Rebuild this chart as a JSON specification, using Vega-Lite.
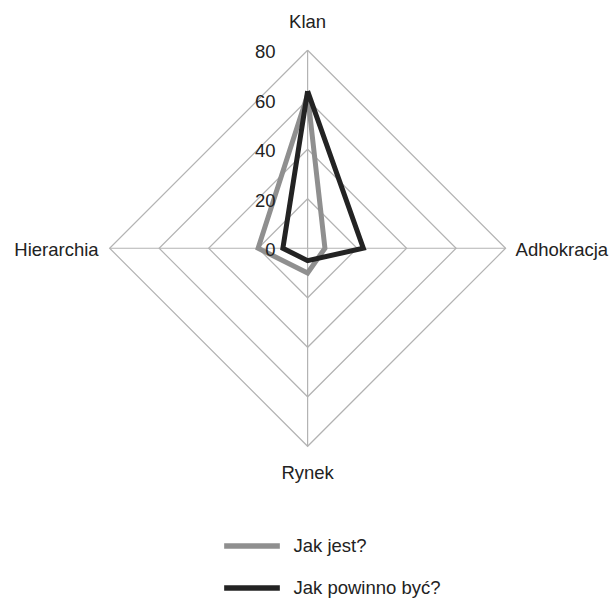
{
  "$schema": "https://vega.github.io/schema/vega-lite/v6.json",
  "width": 613,
  "height": 601,
  "autosize": "none",
  "padding": 0,
  "background": "white",
  "config": {"view": {"stroke": null}, "font": "Liberation Sans", "text": {"font": "Liberation Sans", "fontSize": 18.5, "color": "#222222"}},
  "datasets": {
    "grid": [
      {"level": 20, "axis": ["Klan", "Adhokracja", "Rynek", "Hierarchia", "Klan"], "o": [0, 1, 2, 3, 4]},
      {"level": 40, "axis": ["Klan", "Adhokracja", "Rynek", "Hierarchia", "Klan"], "o": [0, 1, 2, 3, 4]},
      {"level": 60, "axis": ["Klan", "Adhokracja", "Rynek", "Hierarchia", "Klan"], "o": [0, 1, 2, 3, 4]},
      {"level": 80, "axis": ["Klan", "Adhokracja", "Rynek", "Hierarchia", "Klan"], "o": [0, 1, 2, 3, 4]}
    ],
    "spokes": [
      {"axis": "Klan", "value": 80},
      {"axis": "Adhokracja", "value": 80},
      {"axis": "Rynek", "value": 80},
      {"axis": "Hierarchia", "value": 80}
    ],
    "series": [
      {"series": "Jak jest?", "axis": "Klan", "value": 62, "o": 0},
      {"series": "Jak jest?", "axis": "Adhokracja", "value": 7, "o": 1},
      {"series": "Jak jest?", "axis": "Rynek", "value": 10, "o": 2},
      {"series": "Jak jest?", "axis": "Hierarchia", "value": 20, "o": 3},
      {"series": "Jak jest?", "axis": "Klan", "value": 62, "o": 4},
      {"series": "Jak powinno być?", "axis": "Klan", "value": 63.5, "o": 0},
      {"series": "Jak powinno być?", "axis": "Adhokracja", "value": 22.5, "o": 1},
      {"series": "Jak powinno być?", "axis": "Rynek", "value": 5, "o": 2},
      {"series": "Jak powinno być?", "axis": "Hierarchia", "value": 10, "o": 3},
      {"series": "Jak powinno być?", "axis": "Klan", "value": 63.5, "o": 4}
    ],
    "ticks": [
      {"t": "0", "v": 0},
      {"t": "20", "v": 20},
      {"t": "40", "v": 40},
      {"t": "60", "v": 60},
      {"t": "80", "v": 80}
    ]
  },
  "layer": [
    {
      "data": {"name": "grid"},
      "transform": [
        {"flatten": ["axis", "o"]},
        {"calculate": "datum.axis === 'Adhokracja' ? datum.level : (datum.axis === 'Hierarchia' ? -datum.level : 0)", "as": "px"},
        {"calculate": "datum.axis === 'Klan' ? datum.level : (datum.axis === 'Rynek' ? -datum.level : 0)", "as": "py"}
      ],
      "mark": {"type": "line", "stroke": "#b3b3b3", "strokeWidth": 1.2},
      "encoding": {
        "x": {"field": "px", "type": "quantitative", "scale": {"domain": [-124.3, 123.4], "nice": false, "zero": false}, "axis": null},
        "y": {"field": "py", "type": "quantitative", "scale": {"domain": [-142.5, 100.3], "nice": false, "zero": false}, "axis": null},
        "detail": {"field": "level", "type": "nominal"},
        "order": {"field": "o", "type": "quantitative"}
      }
    },
    {
      "data": {"name": "spokes"},
      "transform": [
        {"calculate": "datum.axis === 'Adhokracja' ? datum.value : (datum.axis === 'Hierarchia' ? -datum.value : 0)", "as": "px"},
        {"calculate": "datum.axis === 'Klan' ? datum.value : (datum.axis === 'Rynek' ? -datum.value : 0)", "as": "py"}
      ],
      "mark": {"type": "rule", "stroke": "#b3b3b3", "strokeWidth": 1.2},
      "encoding": {
        "x": {"field": "px", "type": "quantitative"},
        "y": {"field": "py", "type": "quantitative"},
        "x2": {"datum": 0},
        "y2": {"datum": 0}
      }
    },
    {
      "data": {"name": "series"},
      "transform": [
        {"calculate": "datum.axis === 'Adhokracja' ? datum.value : (datum.axis === 'Hierarchia' ? -datum.value : 0)", "as": "px"},
        {"calculate": "datum.axis === 'Klan' ? datum.value : (datum.axis === 'Rynek' ? -datum.value : 0)", "as": "py"}
      ],
      "mark": {"type": "line", "strokeWidth": 5, "strokeJoin": "miter", "strokeMiterLimit": 20},
      "encoding": {
        "x": {"field": "px", "type": "quantitative"},
        "y": {"field": "py", "type": "quantitative"},
        "order": {"field": "o", "type": "quantitative"},
        "color": {
          "field": "series", "type": "nominal",
          "scale": {"domain": ["Jak jest?", "Jak powinno być?"], "range": ["#8f8f8f", "#232323"]},
          "legend": {
            "title": null,
            "orient": "none",
            "direction": "vertical",
            "legendX": 221,
            "legendY": 515,
            "padding": 0,
            "symbolType": "stroke",
            "symbolSize": 3100,
            "symbolStrokeWidth": 5.5,
            "labelOffset": 10.5,
            "labelFont": "Liberation Sans",
            "labelFontSize": 18.5,
            "labelColor": "#222222",
            "rowPadding": -11,
            "labelLimit": 300
          }
        }
      }
    },
    {
      "data": {"name": "ticks"},
      "mark": {"type": "text", "align": "right", "baseline": "middle", "dx": -32, "dy": 2},
      "encoding": {
        "x": {"datum": 0},
        "y": {"field": "v", "type": "quantitative"},
        "text": {"field": "t"}
      }
    },
    {
      "data": {"values": [{"label": "Klan"}]},
      "mark": {"type": "text", "align": "center", "baseline": "middle", "dy": -28},
      "encoding": {"x": {"datum": 0}, "y": {"datum": 80}, "text": {"field": "label"}}
    },
    {
      "data": {"values": [{"label": "Adhokracja"}]},
      "mark": {"type": "text", "align": "left", "baseline": "middle", "dx": 10, "dy": 2},
      "encoding": {"x": {"datum": 80}, "y": {"datum": 0}, "text": {"field": "label"}}
    },
    {
      "data": {"values": [{"label": "Rynek"}]},
      "mark": {"type": "text", "align": "center", "baseline": "middle", "dy": 27},
      "encoding": {"x": {"datum": 0}, "y": {"datum": -80}, "text": {"field": "label"}}
    },
    {
      "data": {"values": [{"label": "Hierarchia"}]},
      "mark": {"type": "text", "align": "right", "baseline": "middle", "dx": -11, "dy": 2},
      "encoding": {"x": {"datum": -80}, "y": {"datum": 0}, "text": {"field": "label"}}
    }
  ]
}
